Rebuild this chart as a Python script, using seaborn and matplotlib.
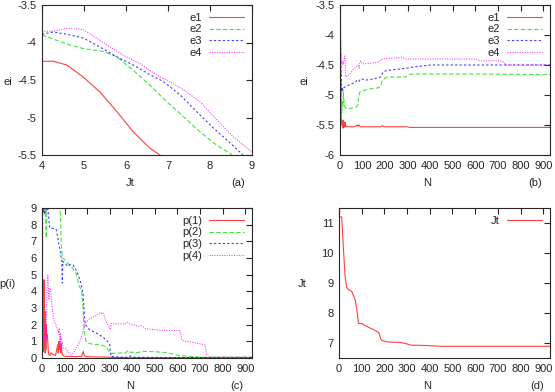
import matplotlib
matplotlib.use("Agg")
import matplotlib.pyplot as plt
import seaborn as sb
import pandas as pd

# DATA
# -----------------------------

# (a) ei vs Jt
jt_e1 = [4.0, 4.27, 4.59, 4.98, 5.38, 5.78, 6.17, 6.57, 6.81]
e1_a = [-4.25, -4.25, -4.30, -4.46, -4.66, -4.92, -5.19, -5.41, -5.5]
jt_e2 = [4.0, 4.59, 4.98, 5.46, 5.78, 6.17, 6.57, 6.97, 7.37, 7.76, 8.16, 8.48, 8.55]
e2_a = [-3.9, -4.02, -4.08, -4.12, -4.19, -4.37, -4.57, -4.79, -4.99, -5.19, -5.37, -5.48, -5.52]
jt_e3 = [4.0, 4.27, 4.59, 4.98, 5.38, 5.78, 6.17, 6.57, 6.89, 7.29, 7.68, 8.08, 8.48, 8.75, 8.8]
e3_a = [-3.89, -3.86, -3.89, -3.94, -4.06, -4.19, -4.3, -4.43, -4.52, -4.7, -4.92, -5.14, -5.34, -5.48, -5.52]
jt_e4 = [4.0, 4.27, 4.59, 4.83, 4.98, 5.22, 5.54, 5.94, 6.33, 6.57, 6.81, 6.97, 7.37, 7.76, 8.16, 8.56, 9.0]
e4_a = [-3.85, -3.85, -3.81, -3.82, -3.83, -3.91, -4.03, -4.17, -4.28, -4.37, -4.46, -4.5, -4.63, -4.79, -5.03,
        -5.26, -5.46]

# (b) ei vs N
n_e1 = [0, 2, 4, 6, 8, 10, 12, 14, 16, 18, 20, 22, 25, 30, 40, 60, 70, 75, 80, 85, 90, 180, 188, 195, 300, 310, 930]
e1_b = [-3.2, -4.5, -5.2, -5.4, -5.5, -5.45, -5.55, -5.42, -5.55, -5.48, -5.52, -5.45, -5.53, -5.52, -5.53, -5.53,
        -5.52, -5.5, -5.52, -5.5, -5.53, -5.53, -5.51, -5.53, -5.53, -5.54, -5.54]
n_e2 = [0, 2, 5, 8, 10, 12, 15, 18, 22, 30, 50, 70, 78, 82, 88, 100, 130, 170, 180, 188, 200, 210, 290, 305, 320, 600, 930]
e2_b = [-3.3, -4.0, -4.8, -5.3, -5.1, -5.2, -4.95, -5.15, -5.2, -5.23, -5.22, -5.2, -5.18, -5.05, -4.95, -4.93, -4.9,
        -4.88, -4.85, -4.75, -4.72, -4.7, -4.7, -4.66, -4.65, -4.65, -4.66]
n_e3 = [0, 2, 5, 8, 10, 13, 16, 20, 30, 60, 70, 75, 85, 90, 120, 150, 180, 190, 200, 230, 280, 300, 330, 400, 930]
e3_b = [-3.3, -4.2, -4.7, -4.95, -4.88, -4.92, -4.88, -4.87, -4.85, -4.8, -4.78, -4.75, -4.77, -4.73, -4.75, -4.73,
        -4.7, -4.62, -4.6, -4.58, -4.56, -4.55, -4.53, -4.5, -4.5]
n_e4 = [0, 3, 6, 9, 12, 15, 18, 20, 22, 25, 35, 50, 65, 75, 80, 85, 88, 92, 100, 140, 170, 180, 190, 210, 260, 270,
        290, 600, 620, 710, 725, 735, 930]
e4_b = [-3.2, -4.0, -4.4, -4.5, -4.45, -4.48, -4.4, -4.35, -4.4, -4.7, -4.68, -4.62, -4.55, -4.52, -4.5, -4.55, -4.45,
        -4.43, -4.48, -4.47, -4.45, -4.42, -4.4, -4.39, -4.38, -4.37, -4.4, -4.4, -4.43, -4.43, -4.45, -4.5, -4.5]

# (c) p(i) vs N
n_p1 = [0, 1, 2, 3, 4, 5, 6, 7, 8, 9, 10, 11, 12, 13, 14, 15, 16, 17, 18, 19, 20, 22, 24, 26, 28, 30, 35, 40, 50, 60,
        65, 70, 72, 74, 76, 78, 80, 82, 84, 86, 88, 90, 95, 100, 120, 150, 175, 183, 186, 190, 200, 250, 300, 310,
        400, 600, 930]
p1 = [0.5, 3.0, 0.8, 4.6, 1.2, 3.8, 0.4, 2.5, 1.0, 4.7, 0.6, 3.2, 1.5, 2.8, 0.3, 2.2, 1.8, 0.5, 2.0, 1.3, 1.6, 1.2,
      1.4, 0.9, 0.4, 0.2, 0.15, 0.3, 0.2, 0.15, 0.5, 0.8, 0.3, 1.0, 0.5, 0.9, 0.6, 0.7, 0.3, 0.8, 0.4, 0.2, 0.15, 0.1,
      0.1, 0.08, 0.1, 0.4, 0.2, 0.1, 0.08, 0.06, 0.05, 0.03, 0.02, 0.02, 0.02]
n_p2 = [0, 8, 12, 16, 19, 21, 24, 27, 78, 82, 85, 90, 100, 120, 130, 150, 165, 175, 182, 186, 190, 195, 205, 230, 260,
        285, 300, 305, 370, 380, 390, 420, 450, 500, 550, 610, 650, 700, 930]
p2 = [9.5, 9.2, 8.8, 8.5, 7.2, 8.6, 8.9, 9.5, 9.5, 8.5, 7.0, 6.0, 5.9, 5.6, 5.5, 5.1, 4.3, 4.1, 3.0, 1.8, 1.3, 1.0,
      0.9, 0.8, 0.8, 0.65, 0.35, 0.28, 0.3, 0.45, 0.35, 0.32, 0.4, 0.38, 0.32, 0.15, 0.1, 0.05, 0.05]
n_p3 = [0, 2, 3, 6, 9, 12, 15, 18, 22, 28, 34, 40, 55, 63, 70, 78, 84, 88, 90, 92, 100, 115, 125, 137, 150, 160, 172,
        182, 188, 192, 210, 240, 270, 290, 300, 305, 350, 380, 390, 400, 500, 930]
p3 = [0.0, 5.0, 9.5, 8.7, 9.2, 8.6, 9.0, 8.8, 9.3, 8.7, 7.8, 7.8, 7.75, 7.7, 7.2, 6.6, 6.1, 5.8, 4.5, 5.8, 5.7, 5.5,
      5.6, 5.6, 5.3, 5.0, 4.5, 3.8, 2.5, 2.0, 1.7, 1.5, 1.25, 1.0, 0.8, 0.1, 0.05, 0.05, 0.12, 0.05, 0.03, 0.02]
n_p4 = [0, 5, 10, 15, 18, 22, 25, 27, 30, 35, 40, 45, 50, 55, 60, 65, 70, 74, 76, 78, 80, 82, 84, 86, 88, 90, 95, 105,
        120, 130, 140, 150, 160, 172, 180, 188, 200, 210, 240, 255, 262, 268, 275, 283, 298, 303, 305, 370, 378, 395,
        430, 438, 445, 460, 540, 612, 620, 700, 722, 730, 745, 930]
p4 = [0.0, 0.5, 1.0, 2.2, 1.0, 4.0, 5.0, 4.9, 3.5, 4.2, 3.9, 3.0, 2.5, 2.2, 2.0, 1.9, 1.6, 1.5, 1.8, 1.2, 0.7, 1.5,
      0.6, 1.2, 0.8, 0.9, 0.6, 0.55, 0.3, 0.22, 0.3, 0.55, 0.8, 1.15, 1.5, 2.05, 2.2, 2.35, 2.55, 2.7, 2.65, 2.75,
      2.55, 2.2, 1.85, 1.7, 2.05, 2.05, 2.15, 2.0, 1.9, 1.95, 1.9, 1.75, 1.65, 1.65, 1.05, 0.85, 0.78, 0.15, 0.05,
      0.05]

# (d) Jt vs N
n_jt = [4, 12, 19, 27, 34, 41, 56, 71, 78, 86, 100, 123, 152, 175, 186, 204, 226, 271, 300, 315, 374, 448, 930]
jt = [11.2, 11.2, 10.2, 9.2, 8.85, 8.78, 8.72, 8.45, 8.15, 7.65, 7.65, 7.55, 7.45, 7.35, 7.1, 7.05, 7.03, 7.02, 6.97,
      6.93, 6.92, 6.89, 6.89]

# STYLE
# -----------------------------

sb.set_style("white")
plt.rcParams["font.family"] = ["Liberation Sans", "DejaVu Sans"]
plt.rcParams["font.size"] = 8
plt.rcParams["axes.unicode_minus"] = False
plt.rcParams["axes.linewidth"] = 0.8

COLORS = ["#ff0000", "#00dd00", "#0000ff", "#ff00ff"]
DASHES = [(None, None), (4, 2), (2, 2), (1, 1.2)]
LW = 0.8


def draw(ax, x, y, i, label):
    d = pd.DataFrame({"x": x, "y": y})
    sb.lineplot(data=d, x="x", y="y", ax=ax, color=COLORS[i], lw=LW, alpha=0.75,
                estimator=None, sort=False, label=label)
    if DASHES[i][0] is not None:
        ax.lines[-1].set_dashes(DASHES[i])


def frame(ax):
    ax.tick_params(direction="in", top=True, right=True, length=4, width=0.8, labelsize=8, pad=4)
    ax.set_xlabel("")
    ax.set_ylabel("")
    leg = ax.legend(loc="upper right", frameon=False, markerfirst=False, handlelength=3.2,
                    fontsize=8, labelspacing=0.15, borderaxespad=0.3, handletextpad=0.6)
    for h in leg.get_lines():
        h.set_linewidth(LW)


fig = plt.figure(figsize=(5.55, 3.92), dpi=100)
W, H = 555, 392


def axes_at(l, t, r, b):
    return fig.add_axes([l / W, 1 - b / H, (r - l) / W, (b - t) / H])


# (a)
ax = axes_at(42, 5, 252, 155)
draw(ax, jt_e1, e1_a, 0, "e1")
draw(ax, jt_e2, e2_a, 1, "e2")
draw(ax, jt_e3, e3_a, 2, "e3")
draw(ax, jt_e4, e4_a, 3, "e4")
ax.set_xlim(4, 9)
ax.set_ylim(-5.5, -3.5)
ax.set_yticks([-5.5, -5, -4.5, -4, -3.5])
ax.set_yticklabels(["-5.5", "-5", "-4.5", "-4", "-3.5"])
frame(ax)

# (b)
ax = axes_at(340, 5, 550, 155)
draw(ax, n_e1, e1_b, 0, "e1")
draw(ax, n_e2, e2_b, 1, "e2")
draw(ax, n_e3, e3_b, 2, "e3")
draw(ax, n_e4, e4_b, 3, "e4")
ax.set_xlim(0, 930)
ax.set_ylim(-6, -3.5)
ax.set_xticks(range(0, 1000, 100))
ax.set_yticks([-6, -5.5, -5, -4.5, -4, -3.5])
ax.set_yticklabels(["-6", "-5.5", "-5", "-4.5", "-4", "-3.5"])
frame(ax)

# (c)
ax = axes_at(42, 208, 252, 358)
draw(ax, n_p1, p1, 0, "p(1)")
draw(ax, n_p2, p2, 1, "p(2)")
draw(ax, n_p3, p3, 2, "p(3)")
draw(ax, n_p4, p4, 3, "p(4)")
ax.set_xlim(0, 930)
ax.set_ylim(0, 9)
ax.set_xticks(range(0, 1000, 100))
ax.set_yticks(range(0, 10))
frame(ax)

# (d)
ax = axes_at(339, 208, 550, 358)
draw(ax, n_jt, jt, 0, "Jt")
ax.set_xlim(0, 930)
ax.set_ylim(6.5, 11.5)
ax.set_xticks(range(0, 1000, 100))
ax.set_yticks([7, 8, 9, 10, 11])
frame(ax)

# LABELS
# -----------------------------

def label(x, y, s):
    fig.text(x / W, 1 - y / H, s, ha="center", va="center", fontsize=8)


label(8, 82, "ei")
label(130, 183, "Jt")
label(238, 183, "(a)")
label(304, 82, "ei")
label(427, 183, "N")
label(535, 183, "(b)")
label(7, 284, "p(i)")
label(130, 386, "N")
label(237, 386, "(c)")
label(302, 284, "Jt")
label(427, 386, "N")
label(537, 386, "(d)")

fig.savefig("out.png", dpi=100)
